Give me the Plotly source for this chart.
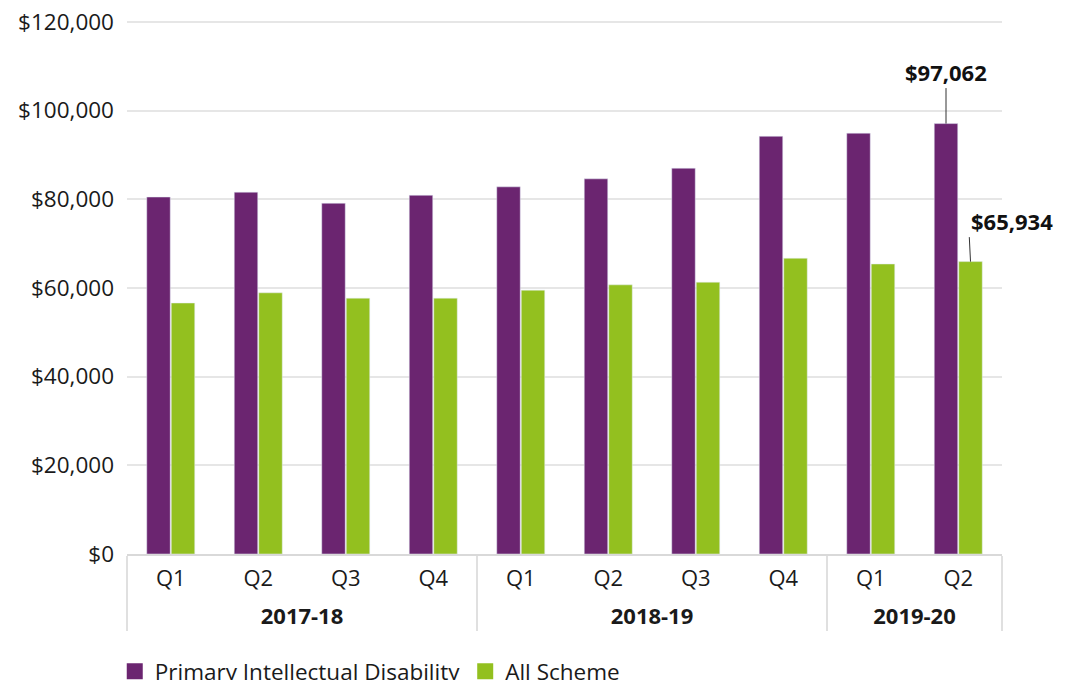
import plotly.graph_objects as go

years = ["2017-18", "2017-18", "2017-18", "2017-18",
         "2018-19", "2018-19", "2018-19", "2018-19",
         "2019-20", "2019-20"]
quarters = ["Q1", "Q2", "Q3", "Q4", "Q1", "Q2", "Q3", "Q4", "Q1", "Q2"]
primary_id = [80500, 81600, 79100, 80900, 82800, 84600, 87000, 94200, 94900, 97062]
all_scheme = [56600, 58900, 57700, 57700, 59500, 60700, 61300, 66700, 65400, 65934]
y_max = 120000
y_step = 20000

PURPLE = "#6b2570"
GREEN = "#93c01f"
FONT = "Open Sans"

year_labels = ["<span style='baseline-shift:-10px'><b>%s</b></span>" % y for y in years]
x = [year_labels, quarters]

fig = go.Figure()
fig.add_trace(go.Bar(x=x, y=primary_id, name="Primary Intellectual Disability",
                     marker_color=PURPLE, showlegend=False))
fig.add_trace(go.Bar(x=x, y=all_scheme, name="All Scheme",
                     marker_color=GREEN, showlegend=False))
# legend entries with larger square swatches
fig.add_trace(go.Scatter(x=[None], y=[None], mode="markers", name="Primary Intellectual Disability",
                         marker=dict(symbol="square", size=16, color=PURPLE), hoverinfo="skip"))
fig.add_trace(go.Scatter(x=[None], y=[None], mode="markers", name="All Scheme",
                         marker=dict(symbol="square", size=16, color=GREEN), hoverinfo="skip"))

bargap = 0.44
half = (1 - bargap) / 4
last = len(quarters) - 1

fig.add_annotation(x=last - half, y=primary_id[-1], xref="x", yref="y",
                   text="<b>$%s</b>" % format(primary_id[-1], ","),
                   showarrow=True, arrowhead=0, arrowwidth=1, arrowcolor="#333333",
                   ax=0, ay=-52, standoff=0, font=dict(size=22, color="#111111", family=FONT))
fig.add_annotation(x=last + half, y=all_scheme[-1], xref="x", yref="y",
                   text="<b>$%s</b>" % format(all_scheme[-1], ","),
                   showarrow=True, arrowhead=0, arrowwidth=1, arrowcolor="#333333",
                   ax=-2, ay=-41, xanchor="left", standoff=0,
                   font=dict(size=22, color="#111111", family=FONT))

# page body adds an 8px offset; the figure is sized to fit the 1065x680 window
fig.update_layout(
    width=1057, height=672,
    margin=dict(l=119, r=63, t=12, b=126, autoexpand=False),
    paper_bgcolor="white", plot_bgcolor="white",
    font=dict(family=FONT, size=22, color="#1a1a1a"),
    barmode="group", bargap=bargap, bargroupgap=0.04,
    legend=dict(orientation="h", x=-0.014, xanchor="left", y=-0.18, yanchor="top",
                font=dict(size=22.5, color="#1a1a1a"), itemwidth=30, tracegroupgap=0),
)
fig.update_yaxes(range=[0, y_max * 1.0035], dtick=y_step, tickprefix="$", tickformat=",",
                 gridcolor="#e6e6e6", gridwidth=1.5, zeroline=False, showline=False,
                 automargin=False, ticklabelstandoff=12, ticklabeloverflow="allow",
                 tickfont=dict(size=22.5, color="#1a1a1a"))
fig.update_xaxes(type="multicategory", range=[-0.5, last + 0.5], showline=True,
                 linecolor="#d9d9d9", linewidth=2, automargin=False,
                 showdividers=True, dividercolor="#e0e0e0", dividerwidth=1.5,
                 ticklabelstandoff=4,
                 tickfont=dict(size=22, color="#1a1a1a"), showgrid=False)

fig.write_html("out.html")
